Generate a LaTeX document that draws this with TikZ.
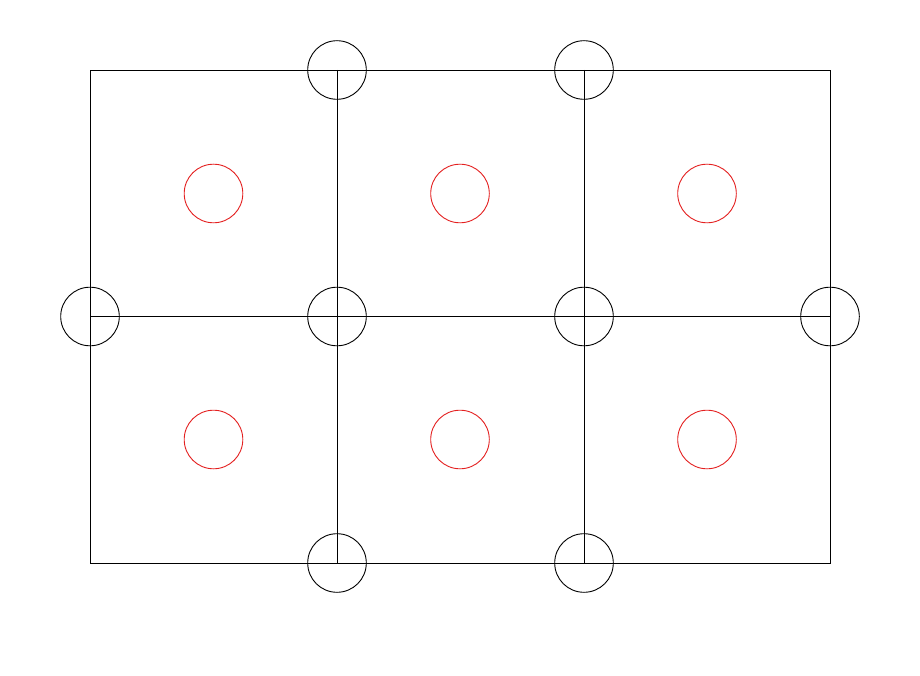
\documentclass[tikz,border=0pt]{standalone}
\definecolor{ringred}{RGB}{228,32,32}
\begin{document}
\begin{tikzpicture}[x=1pt,y=-1pt,
  gridline/.style={draw=black,line width=0.9pt},
  joint/.style={circle,draw=black,line width=0.9pt,minimum size=58.6pt,inner sep=0pt},
  cellring/.style={circle,draw=ringred,line width=0.9pt,minimum size=58.6pt,inner sep=0pt}]
\useasboundingbox (0,0) rectangle (920,676);
\fill[white] (0,0) rectangle (920,676);
% grid corners
\coordinate (c00) at (90,70);
\coordinate (c30) at (830,70);
\coordinate (c03) at (90,563);
\coordinate (c33) at (830,563);
\coordinate (c10) at (337,70);
\coordinate (c20) at (584,70);
\coordinate (c13) at (337,563);
\coordinate (c23) at (584,563);
\coordinate (c01) at (90,316.5);
\coordinate (c31) at (830,316.5);
\draw[gridline] (c00) rectangle (c33);
\draw[gridline] (c10) -- (c13);
\draw[gridline] (c20) -- (c23);
\draw[gridline] (c01) -- (c31);
% joints
\node[joint] (jt1) at (c10) {};
\node[joint] (jt2) at (c20) {};
\node[joint] (jm0) at (c01) {};
\node[joint] (jm1) at (337,316.5) {};
\node[joint] (jm2) at (584,316.5) {};
\node[joint] (jm3) at (c31) {};
\node[joint] (jb1) at (c13) {};
\node[joint] (jb2) at (c23) {};
% cell rings
\node[cellring] (r11) at (213.5,193.5) {};
\node[cellring] (r12) at (460,193.5) {};
\node[cellring] (r13) at (707,193.5) {};
\node[cellring] (r21) at (213.5,439.5) {};
\node[cellring] (r22) at (460,439.5) {};
\node[cellring] (r23) at (707,439.5) {};
\end{tikzpicture}
\end{document}
